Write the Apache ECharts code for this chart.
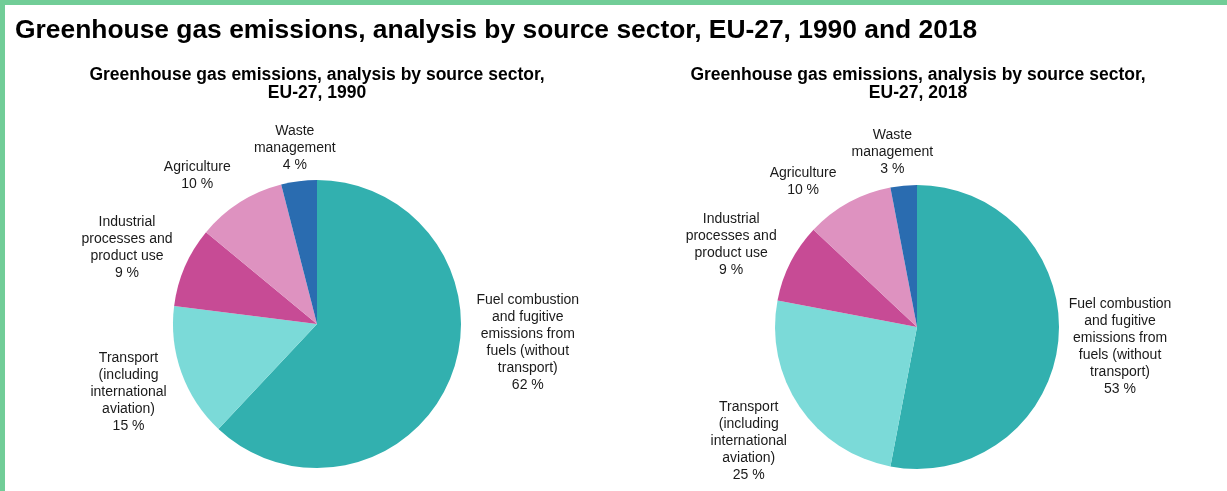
<!DOCTYPE html>
<html>
<head>
<meta charset="utf-8">
<title>Greenhouse gas emissions by source sector, EU-27</title>
<script src="https://cdn.jsdelivr.net/npm/echarts@6/dist/echarts.min.js"></script>
<style>
  html, body { margin: 0; padding: 0; background: #ffffff; }
  #chart { position: absolute; left: 0; top: 0; width: 1227px; height: 491px; }
  #frame {
    position: absolute; left: 0; top: 0; width: 1227px; height: 491px;
    box-sizing: border-box; pointer-events: none;
    border-left: 5px solid #71cd97; border-top: 5px solid #71cd97;
  }
</style>
</head>
<body>
<div id="chart"></div>
<div id="frame"></div>
<script>
// Source sectors, in clockwise order starting at twelve o'clock
const sectors = [
  'Fuel combustion\nand fugitive\nemissions from\nfuels (without\ntransport)',
  'Transport\n(including\ninternational\naviation)',
  'Industrial\nprocesses and\nproduct use',
  'Agriculture',
  'Waste\nmanagement'
];

// Share of total emissions, %
const share1990 = [62, 15, 9, 10, 4];
const share2018 = [53, 25, 9, 10, 3];

const sectorColors = ['#32b0af', '#7bdad8', '#c74b95', '#de92c0', '#2a6cb0'];

const mainTitle = 'Greenhouse gas emissions, analysis by source sector, EU-27, 1990 and 2018';
const pieTitle1990 = 'Greenhouse gas emissions, analysis by source sector,\nEU-27, 1990';
const pieTitle2018 = 'Greenhouse gas emissions, analysis by source sector,\nEU-27, 2018';

const FONT = '"Liberation Sans", Arial, sans-serif';
const LABEL_GAP = 6;
// Per-label tweaks: direction (degrees, clockwise from three o'clock) and gap to the rim
const labelTweaks = [
  { 0: { angle: 5, gap: 12 }, 2: { angle: -158 }, 3: { angle: -129, gap: 12 }, 4: { gap: 3 } },
  { 2: { angle: -156 }, 3: { angle: -128, gap: 9 }, 4: { angle: -98, gap: 4 } }
];

const chart = echarts.init(document.getElementById('chart'), null, { renderer: 'canvas' });

// Place each label just outside its slice, along the slice's middle angle,
// with the text block centred on that direction.
function outsideLabel(params) {
  const data = chart.getModel().getSeriesByIndex(params.seriesIndex).getData();
  const lay = data.getItemLayout(params.dataIndex);
  const tweak = labelTweaks[params.seriesIndex][params.dataIndex] || {};
  const mid = tweak.angle != null ? tweak.angle * Math.PI / 180 : (lay.startAngle + lay.endAngle) / 2;
  const gap = tweak.gap != null ? tweak.gap : LABEL_GAP;
  const ux = Math.cos(mid), uy = Math.sin(mid);
  const w = params.labelRect.width, h = params.labelRect.height;
  const d = lay.r + gap + Math.abs(ux) * w / 2 + Math.abs(uy) * h / 2;
  return {
    x: lay.cx + ux * d,
    y: lay.cy + uy * d,
    align: 'center',
    verticalAlign: 'middle'
  };
}

function pieSeries(values, center, radius) {
  return {
    type: 'pie',
    center: center,
    radius: radius,
    startAngle: 90,
    clockwise: true,
    avoidLabelOverlap: false,
    silent: true,
    itemStyle: { borderWidth: 0 },
    label: {
      show: true,
      position: 'outside',
      formatter: p => p.name + '\n' + p.value + ' %',
      color: '#1a1a1a',
      fontFamily: FONT,
      fontSize: 14,
      lineHeight: 17,
      align: 'center'
    },
    labelLine: { show: false },
    labelLayout: outsideLabel,
    emphasis: { disabled: true },
    data: sectors.map((name, i) => ({
      name: name,
      value: values[i],
      itemStyle: { color: sectorColors[i] }
    }))
  };
}

const option = {
  animation: false,
  backgroundColor: '#ffffff',
  title: [
    {
      text: mainTitle,
      left: 15, top: 18, padding: 0,
      textStyle: { fontFamily: FONT, fontSize: 26.4, fontWeight: 'bold', color: '#000000' }
    },
    {
      text: pieTitle1990,
      left: 317, top: 66, padding: 0, textAlign: 'center',
      textStyle: { fontFamily: FONT, fontSize: 17.5, fontWeight: 'bold', color: '#000000', lineHeight: 18 }
    },
    {
      text: pieTitle2018,
      left: 918, top: 66, padding: 0, textAlign: 'center',
      textStyle: { fontFamily: FONT, fontSize: 17.5, fontWeight: 'bold', color: '#000000', lineHeight: 18 }
    }
  ],
  series: [
    pieSeries(share1990, [317, 324], 144),
    pieSeries(share2018, [917, 327], 142)
  ]
};

chart.setOption(option);
</script>
</body>
</html>
